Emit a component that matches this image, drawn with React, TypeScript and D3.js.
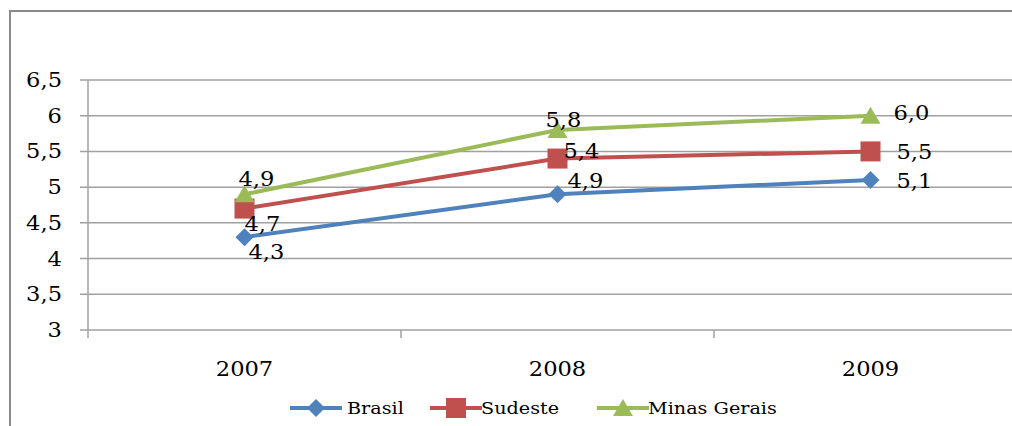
import React from "react";
import * as d3 from "d3";

const years = ["2007", "2008", "2009"];
const brasil = [4.3, 4.9, 5.1];
const sudeste = [4.7, 5.4, 5.5];
const minas = [4.9, 5.8, 6.0];
const yTicks = [3, 3.5, 4, 4.5, 5, 5.5, 6, 6.5];
const seriesNames = ["Brasil", "Sudeste", "Minas Gerais"];
const labelTexts = [
  ["4,3", "4,9", "5,1"],
  ["4,7", "5,4", "5,5"],
  ["4,9", "5,8", "6,0"],
];

const colors = ["#4F81BD", "#C0504D", "#9BBB59"];
const labelOffsets = [
  [[4, 15], [10, -13], [26, 1]],
  [[0, 15], [6, -8], [26, 1]],
  [[-6, -15], [-12, -10], [23, -3]],
];

const W = 1012;
const H = 426;
const left = 88;
const catW = 313;
const top = 80;
const bottom = 330;
const SX = 1.13;
const FONT = "'DejaVu Serif', 'Liberation Serif', 'Noto Serif', serif";

function marker(kind: number, x: number, y: number, color: string, key: string) {
  if (kind === 0) {
    const s = 9;
    return <path key={key} d={`M${x},${y - s}L${x + s},${y}L${x},${y + s}L${x - s},${y}Z`} fill={color} />;
  }
  if (kind === 1) {
    const s = 10;
    return <rect key={key} x={x - s} y={y - s} width={2 * s} height={2 * s} fill={color} />;
  }
  const s = 10;
  return <path key={key} d={`M${x},${y - s + 1}L${x + s},${y + 8}L${x - s},${y + 8}Z`} fill={color} />;
}

function T(props: { x: number; y: number; anchor?: string; size?: number; children: React.ReactNode }) {
  return (
    <text
      transform={`translate(${props.x},${props.y}) scale(${SX},1)`}
      textAnchor={props.anchor || "start"}
      dominantBaseline="central"
      style={{ fontFamily: FONT, fontSize: `${props.size || 20}px` }}
      fill="#000"
    >
      {props.children}
    </text>
  );
}

export default function App() {
  const x = d3.scaleBand<string>().domain(years).range([left, left + catW * years.length]);
  const y = d3.scaleLinear().domain([3, 6.5]).range([bottom, top]);
  const series = [brasil, sudeste, minas];
  const cx = (i: number) => (x(years[i]) as number) + x.bandwidth() / 2;
  const line = d3
    .line<number>()
    .x((_, i) => cx(i))
    .y((d) => y(d));
  const legendItems = [
    { x0: 290, tx: 347 },
    { x0: 430, tx: 481 },
    { x0: 597, tx: 648 },
  ];
  return (
    <svg width={W} height={H} style={{ position: "absolute", left: 0, top: 0, background: "#fff" }}>
      <rect x={10} y={11} width={1010} height={430} fill="none" stroke="#8a8a8a" strokeWidth={2} />
      {yTicks.map((t) => (
        <g key={t}>
          <line x1={left - 8} x2={W} y1={y(t)} y2={y(t)} stroke="#a0a0a0" strokeWidth={1.5} />
          <T x={62} y={y(t)} anchor="end">
            {String(t).replace(".", ",")}
          </T>
        </g>
      ))}
      <line x1={left} x2={left} y1={top} y2={bottom + 8} stroke="#a0a0a0" strokeWidth={1.5} />
      {years.map((yr, i) => (
        <g key={yr}>
          <line
            x1={left + catW * (i + 1)}
            x2={left + catW * (i + 1)}
            y1={bottom}
            y2={bottom + 8}
            stroke="#a0a0a0"
            strokeWidth={1.5}
          />
          <T x={cx(i)} y={369} anchor="middle">
            {yr}
          </T>
        </g>
      ))}
      {series.map((s, si) => (
        <g key={si}>
          <path d={line(s) || ""} fill="none" stroke={colors[si]} strokeWidth={4} strokeLinejoin="round" />
          {s.map((v, i) => marker(si, cx(i), y(v), colors[si], `m${i}`))}
        </g>
      ))}
      {series.map((s, si) =>
        s.map((v, i) => (
          <T key={`l${si}-${i}`} x={cx(i) + labelOffsets[si][i][0]} y={y(v) + labelOffsets[si][i][1]}>
            {labelTexts[si][i]}
          </T>
        ))
      )}
      {seriesNames.map((n, i) => (
        <g key={n}>
          <line x1={legendItems[i].x0} x2={legendItems[i].x0 + 52} y1={408} y2={408} stroke={colors[i]} strokeWidth={4} />
          {marker(i, legendItems[i].x0 + 26, 408, colors[i], "lm")}
          <T x={legendItems[i].tx} y={408} size={17}>
            {n}
          </T>
        </g>
      ))}
    </svg>
  );
}
